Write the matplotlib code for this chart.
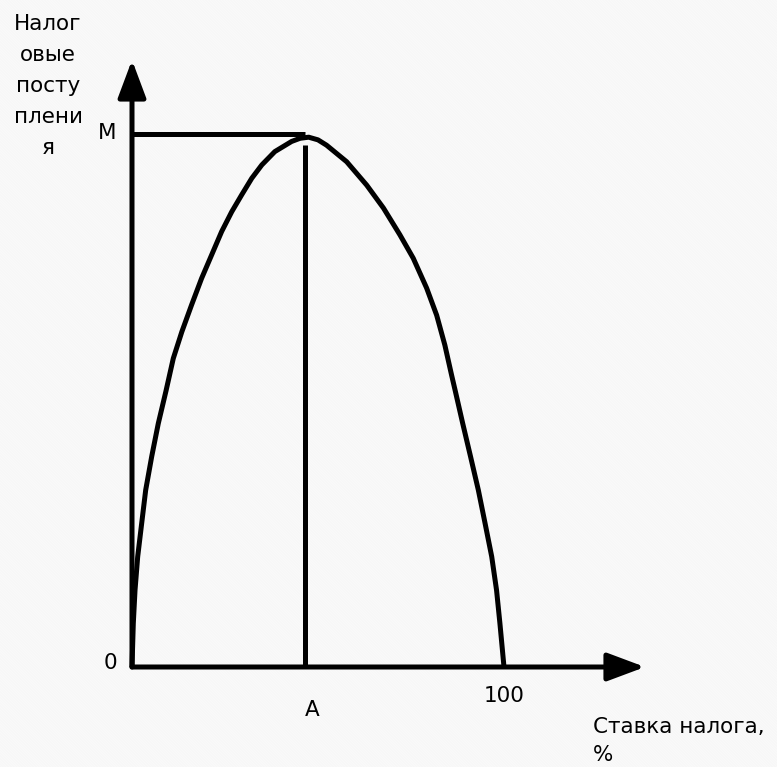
import numpy as np
import matplotlib
matplotlib.use('Agg')
import matplotlib.pyplot as plt
from matplotlib.patches import Rectangle

# Laffer curve (rate in %, revenue with M = 100)
rate = [0, 0.35, 0.81, 1.53, 2.61, 3.68, 5.3, 7.07, 9.14, 11.1, 13.4, 16.0,
        18.7, 21.4, 24.1, 26.8, 29.5, 32.2, 34.9, 38.4, 42.9, 45.2, 47.5,
        50.0, 52.3, 57.7, 63.1, 67.6, 72.0, 75.6, 79.2, 81.9, 84.1, 85.9,
        86.9, 88.9, 91.0, 93.1, 94.9, 96.7, 98.0, 98.9, 100]
revenue = [0, 8.2, 14.4, 20.7, 27.0, 33.2, 39.5, 45.7, 51.8, 57.9, 62.9, 67.9,
           72.9, 77.3, 81.7, 85.4, 88.6, 91.7, 94.2, 96.7, 98.6, 99.2, 99.4,
           98.9, 97.9, 94.8, 90.4, 86.1, 81.1, 76.7, 71.1, 66.0, 60.4, 54.8,
           51.8, 45.7, 39.5, 33.2, 27.0, 20.7, 14.4, 8.2, 0]
rate_A = 46.6
rev_M = 100

y_label = 'Налог\nовые\nпосту\nплени\nя'
x_label = 'Ставка налога,\n%'

plt.rcParams['hatch.linewidth'] = 1.2

fig = plt.figure(figsize=(7.77, 7.67), dpi=100)
# faint striped background
fig.patches.append(Rectangle((0, 0), 1, 1, transform=fig.transFigure,
                             facecolor='white', edgecolor='#f7f7f7', lw=0,
                             hatch='\\\\' * 6, zorder=-10))
ax = fig.add_axes([0, 0, 1, 1])
ax.patch.set_alpha(0)
ax.axis('off')

# pixel mapping: x px = 132 + 3.72*rate, y px = 667 - 5.33*rev
sx, sy = 3.72, 5.33
ax.set_xlim(-132 / sx, (777 - 132) / sx)
ax.set_ylim(-(767 - 667) / sy, 667 / sy)

lw = 3.6
# axes with arrows
arrow = dict(arrowstyle='-|>,head_length=1.15,head_width=0.43', lw=lw,
             color='black', mutation_scale=20, shrinkA=0, shrinkB=0)
ax.annotate('', xy=(0, (667 - 60) / sy), xytext=(0, 0), arrowprops=arrow)
ax.annotate('', xy=((645 - 132) / sx, 0), xytext=(0, 0), arrowprops=arrow)

ax.plot(rate, revenue, color='black', lw=lw, solid_capstyle='butt',
        solid_joinstyle='round')
ax.plot([0, rate_A], [rev_M, rev_M], color='black', lw=lw, solid_capstyle='butt')
ax.plot([rate_A, rate_A], [0, rev_M - 2.1], color='black', lw=lw,
        solid_capstyle='butt')

fs = 15.5
ax.text((48 - 132) / sx, (667 - 86) / sy, y_label, ha='center', va='center',
        fontsize=fs, linespacing=1.7)
ax.text((107 - 132) / sx, (667 - 133) / sy, 'M', ha='center', va='center',
        fontsize=fs)
ax.text((110 - 132) / sx, (667 - 663) / sy, '0', ha='center', va='center',
        fontsize=fs)
ax.text(rate_A + (312 - 305) / sx, -(710 - 667) / sy, 'A', ha='center',
        va='center', fontsize=fs)
ax.text(100, -(696 - 667) / sy, '100', ha='center', va='center', fontsize=fs)
ax.text((593 - 132) / sx, -(741 - 667) / sy, x_label, ha='left', va='center',
        fontsize=fs, linespacing=1.5)

fig.savefig('out.png', dpi=100)
